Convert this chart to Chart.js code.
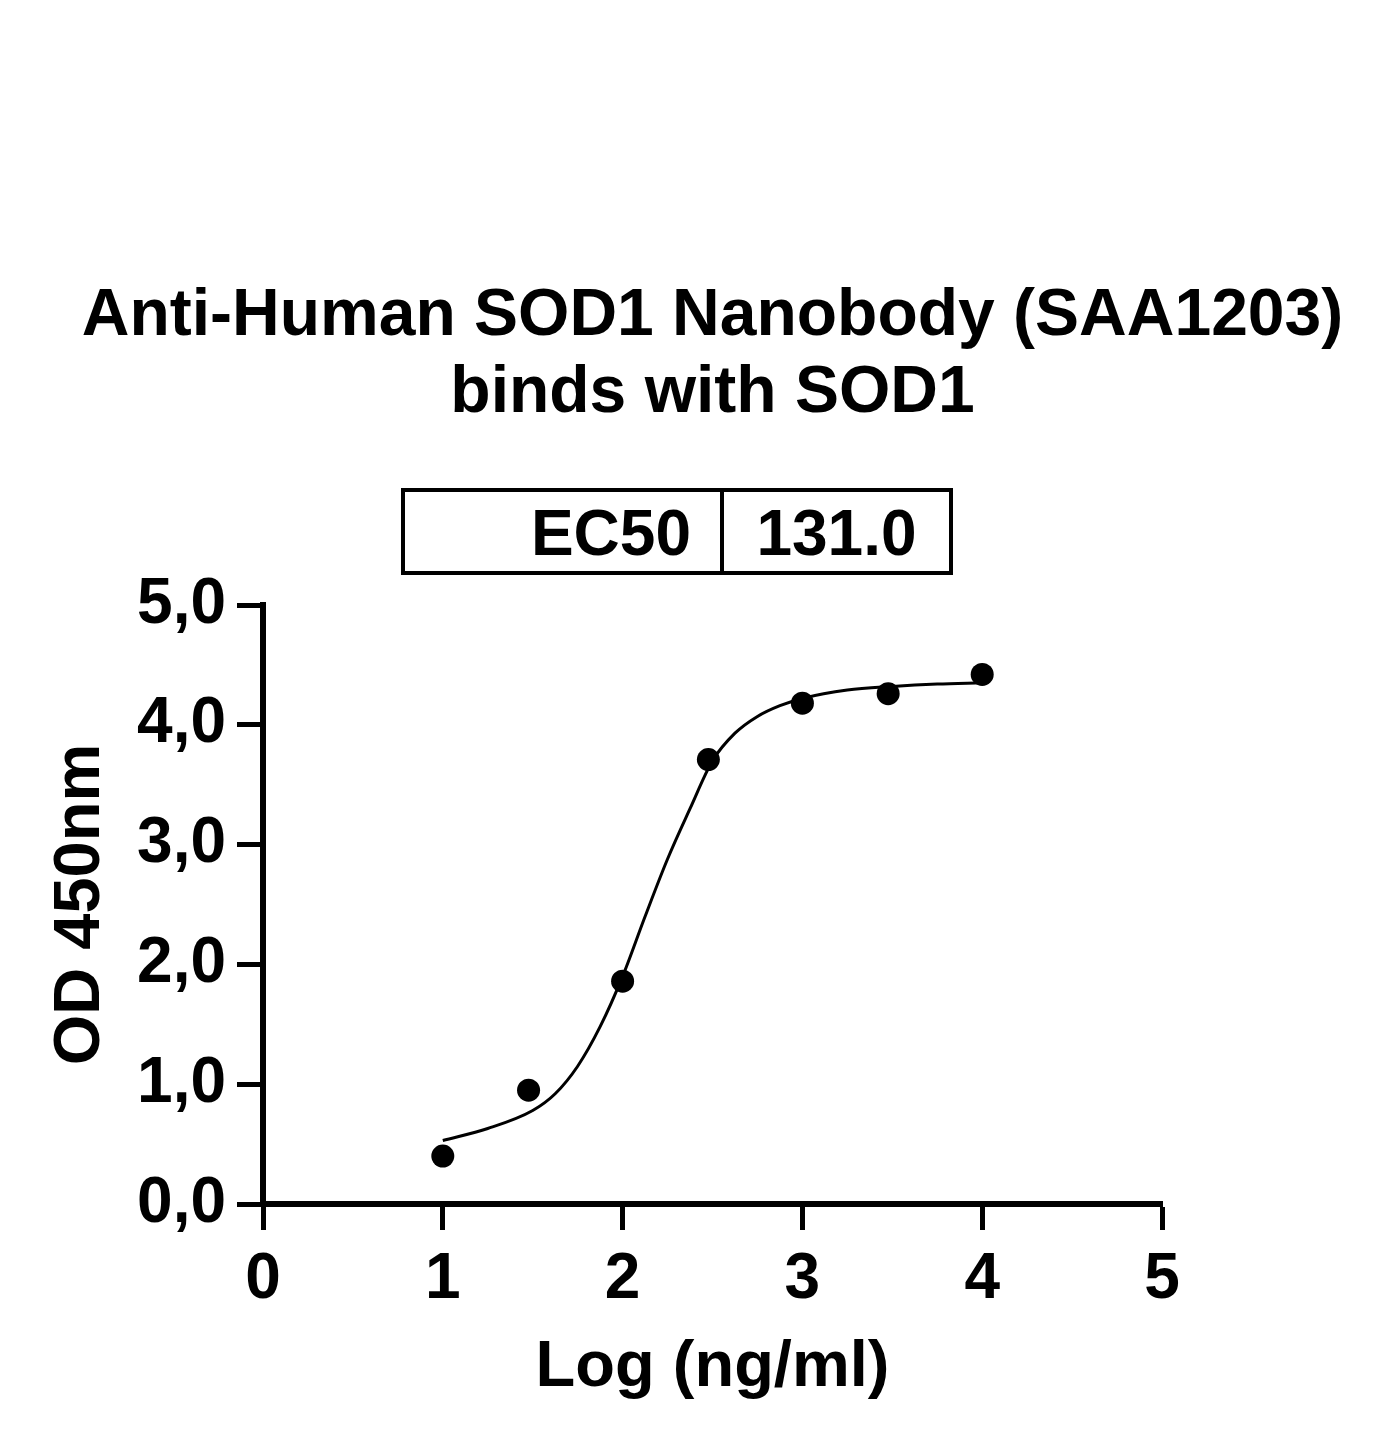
<!DOCTYPE html>
<html>
<head>
<meta charset="utf-8">
<script src="https://cdn.jsdelivr.net/npm/chart.js@4/dist/chart.umd.min.js"></script>
<style>
  html, body { margin: 0; padding: 0; background: #fff; }
  #chart { display: block; }
</style>
</head>
<body>
<canvas id="chart" width="1384" height="1451"></canvas>
<script>
// ===== SOD1 nanobody binding curve =====

const titleLines = ["Anti-Human SOD1 Nanobody (SAA1203)", "binds with SOD1"];
const xTitle = "Log (ng/ml)";
const yTitle = "OD 450nm";

// EC50 table
const tableLabels = ["EC50"];
const tableValues = ["131.0"];

// Tick labels
const xTickLabels = ["0", "1", "2", "3", "4", "5"];
const yTickLabels = ["0,0", "1,0", "2,0", "3,0", "4,0", "5,0"];

// Measured points (log concentration, OD)
const logConc = [1.0, 1.477, 2.0, 2.477, 3.0, 3.477, 4.0];
const odValues = [0.40, 0.95, 1.86, 3.71, 4.18, 4.26, 4.42];

// Fitted curve
const curveX = [1.0, 1.25, 1.5, 1.625, 1.75, 1.875, 2.0, 2.125, 2.25, 2.375, 2.5, 2.625, 2.75, 2.875, 3.0, 3.25, 3.5, 3.75, 4.0];
const curveY = [0.53, 0.63, 0.78, 0.92, 1.15, 1.48, 1.90, 2.40, 2.88, 3.30, 3.70, 3.93, 4.07, 4.16, 4.22, 4.29, 4.32, 4.34, 4.35];

const FONT = '"Liberation Sans", Arial, Helvetica, sans-serif';

const points = logConc.map((x, i) => ({ x: x, y: odValues[i] }));
const curve = curveX.map((x, i) => ({ x: x, y: curveY[i] }));

// title + EC50 table drawn above the plot
const headerPlugin = {
    id: "header",
    afterDraw(chart) {
        const ctx = chart.ctx;
        const area = chart.chartArea;
        const cx = (area.left + area.right) / 2;
        ctx.save();
        ctx.fillStyle = "#000";
        ctx.font = "bold 66px " + FONT;
        ctx.textAlign = "center";
        ctx.textBaseline = "alphabetic";
        ctx.fillText(titleLines[0], cx, 335);
        ctx.fillText(titleLines[1], cx, 412);

        // table box
        const left = 403, right = 951, top = 490, bottom = 573, mid = 722;
        ctx.strokeStyle = "#000";
        ctx.lineWidth = 4;
        ctx.strokeRect(left, top, right - left, bottom - top);
        ctx.beginPath();
        ctx.moveTo(mid, top);
        ctx.lineTo(mid, bottom);
        ctx.stroke();

        ctx.font = "bold 64px " + FONT;
        tableLabels.forEach((label, i) => {
            const rowH = (bottom - top) / tableLabels.length;
            const baseY = top + rowH * i + rowH / 2 + 23;
            ctx.textAlign = "right";
            ctx.fillText(label, mid - 31, baseY);
            ctx.textAlign = "center";
            ctx.fillText(tableValues[i], (mid + right) / 2, baseY);
        });
        ctx.restore();
    }
};

const ctx = document.getElementById("chart").getContext("2d");
new Chart(ctx, {
    type: "scatter",
    data: {
        datasets: [
            {
                label: "fit",
                data: curve,
                showLine: true,
                borderColor: "#000",
                borderWidth: 3,
                pointRadius: 0,
                fill: false,
                cubicInterpolationMode: "monotone"
            },
            {
                label: "data",
                data: points,
                showLine: false,
                pointRadius: 11.5,
                pointBackgroundColor: "#000",
                pointBorderColor: "#000",
                pointBorderWidth: 0
            }
        ]
    },
    options: {
        responsive: false,
        animation: false,
        devicePixelRatio: 1,
        layout: {
            padding: { top: 605, right: 222, left: 0, bottom: 0 }
        },
        plugins: {
            legend: { display: false },
            tooltip: { enabled: false }
        },
        scales: {
            x: {
                type: "linear",
                min: 0,
                max: 5,
                afterFit: (scale) => { scale.height = 247; },
                border: { color: "#000", width: 6 },
                grid: {
                    drawOnChartArea: false,
                    drawTicks: true,
                    tickLength: 26,
                    tickWidth: 5,
                    tickColor: "#000"
                },
                ticks: {
                    stepSize: 1,
                    color: "#000",
                    padding: 12,
                    font: { family: FONT, size: 64, weight: "bold" },
                    callback: (value) => xTickLabels[Math.round(value)]
                },
                title: {
                    display: true,
                    text: xTitle,
                    color: "#000",
                    font: { family: FONT, size: 65, weight: "bold" },
                    padding: { top: 0, bottom: 44 }
                }
            },
            y: {
                min: 0,
                max: 5,
                afterFit: (scale) => { scale.width = 263; },
                border: { color: "#000", width: 6 },
                grid: {
                    drawOnChartArea: false,
                    drawTicks: true,
                    tickLength: 26,
                    tickWidth: 5,
                    tickColor: "#000"
                },
                ticks: {
                    stepSize: 1,
                    color: "#000",
                    padding: 11,
                    font: { family: FONT, size: 64, weight: "bold" },
                    callback: (value) => yTickLabels[Math.round(value)]
                },
                title: {
                    display: true,
                    text: yTitle,
                    color: "#000",
                    font: { family: FONT, size: 65, weight: "bold" },
                    padding: { top: 42, bottom: 0 }
                }
            }
        }
    },
    plugins: [headerPlugin]
});
</script>
</body>
</html>
